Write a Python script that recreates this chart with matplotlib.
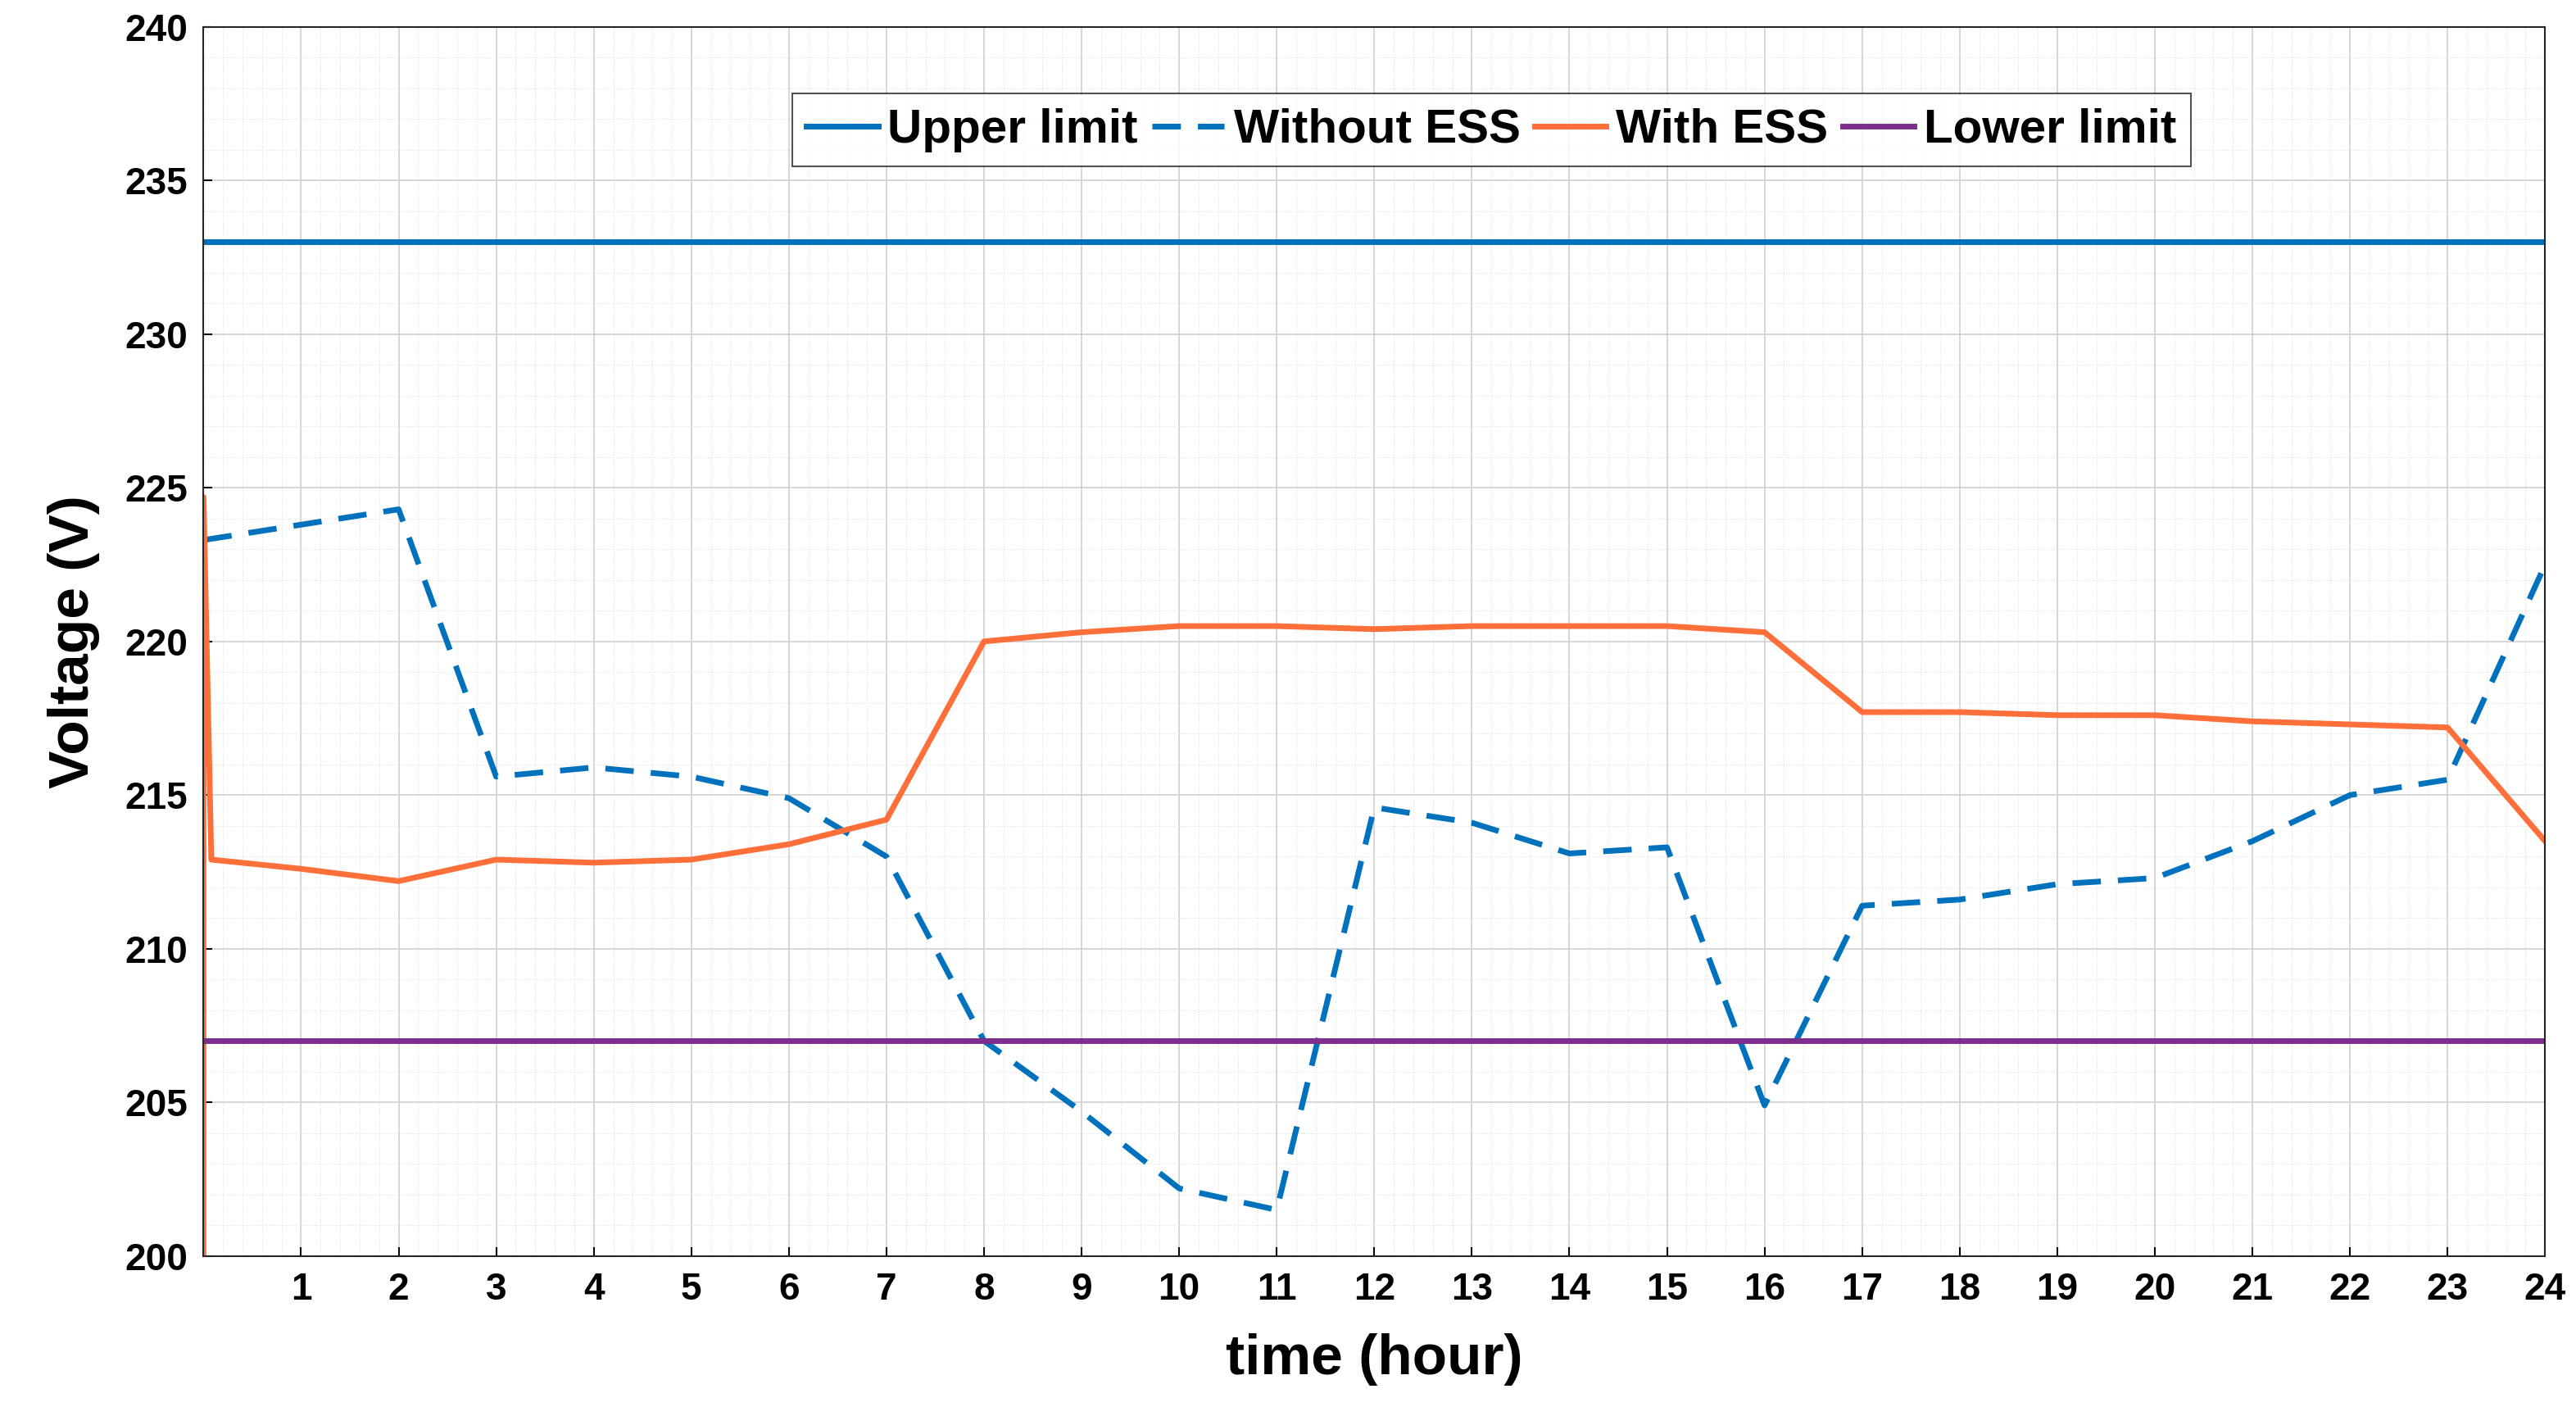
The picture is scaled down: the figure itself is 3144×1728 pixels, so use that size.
import matplotlib
matplotlib.use("Agg")
import matplotlib.pyplot as plt
from matplotlib.ticker import MultipleLocator

hours = list(range(25))
without_ess = [223.3, 223.8, 224.3, 215.6, 215.9, 215.6, 214.9, 213.0, 207.0, 204.7, 202.2, 201.5,
               214.6, 214.1, 213.1, 213.3, 204.9, 211.4, 211.6, 212.1, 212.3, 213.5, 215.0, 215.5, 222.5]
with_t = [0, 0, 0.08] + list(range(1, 25))
with_ess = [200.0, 224.7, 212.9, 212.6, 212.2, 212.9, 212.8, 212.9, 213.4, 214.2, 220.0, 220.3, 220.5,
            220.5, 220.4, 220.5, 220.5, 220.5, 220.3, 217.7, 217.7, 217.6, 217.6, 217.4, 217.3, 217.2, 213.5]
upper_limit = 233
lower_limit = 207

plt.rcParams['font.family'] = ['Liberation Sans', 'DejaVu Sans']
plt.rcParams['font.weight'] = 'bold'
fig = plt.figure(figsize=(31.44, 17.28), dpi=100)
ax = fig.add_axes([0.079, 0.113, 0.909, 0.868])

ax.plot([0, 24], [upper_limit]*2, color='#0072BD', lw=5, label='Upper limit')
ax.plot(hours, without_ess, color='#0072BD', lw=5, ls=(0, (5, 3)), label='Without ESS')
ax.plot(with_t, with_ess, color='#FF6F3A', lw=5, label='With ESS')
ax.plot([0, 24], [lower_limit]*2, color='#7E2F8E', lw=5, label='Lower limit')

ax.set_xlim(0, 24)
ax.set_ylim(200, 240)
ax.set_xticks(range(1, 25))
ax.set_yticks(range(200, 241, 5))
ax.xaxis.set_minor_locator(MultipleLocator(0.2))
ax.yaxis.set_minor_locator(MultipleLocator(1))
ax.grid(True, which='major', color='#d0d0d0', lw=1.2)
ax.grid(True, which='minor', color='#e0e0e0', lw=0.8, ls=':')
ax.tick_params(labelsize=33, direction='in', length=8, width=1.5, pad=14)
ax.tick_params(which='minor', length=0)
for t in ax.get_xticklabels() + ax.get_yticklabels():
    t.set_fontweight('bold')
for s in ax.spines.values():
    s.set_color('#262626'); s.set_linewidth(1.5)
ax.set_xlabel('time (hour)', fontsize=50, fontweight='bold', labelpad=22)
ax.set_ylabel('Voltage (V)', fontsize=50, fontweight='bold', labelpad=22)
leg = ax.legend(loc='upper center', bbox_to_anchor=(0.55, 0.965), ncol=4, fontsize=42,
                frameon=True, fancybox=False, edgecolor='#262626', handlelength=1.5,
                handletextpad=0.2, columnspacing=0.3, borderpad=0.3)
leg.get_frame().set_linewidth(1.5)
for t in leg.get_texts():
    t.set_fontweight('bold')
fig.savefig('out.png', dpi=100, facecolor='white')
